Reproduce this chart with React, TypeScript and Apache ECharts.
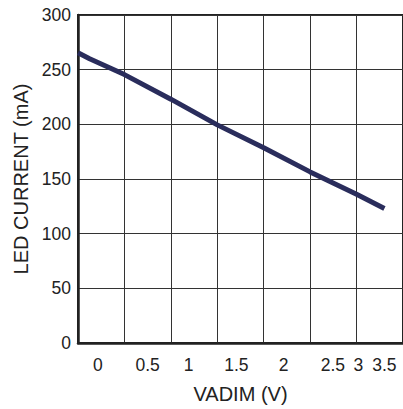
import React, { useEffect, useRef } from "react";
import * as echarts from "echarts";

// line samples: x in grid-column units (0..7), y in mA
const xPos = [0, 0.25, 1, 2, 3, 4, 5, 6, 6.6];
const current = [265.5, 260, 245.5, 223, 199.5, 178.5, 156.5, 136, 123];

// tick labels of the VADIM axis and where they sit (grid-column units)
const xTickLabels = ["0", "0.5", "1", "1.5", "2", "2.5", "3", "3.5"];
const xTickAt = [0.43, 1.5, 2.38, 3.41, 4.43, 5.49, 6.04, 6.6];

const yTicks = [0, 50, 100, 150, 200, 250, 300];

export default function App() {
  const ref = useRef<HTMLDivElement>(null);
  useEffect(() => {
    const chart = echarts.init(ref.current!, null, { renderer: "svg" });
    const font = "'Liberation Sans', Arial, sans-serif";
    chart.setOption({
      animation: false,
      grid: {
        left: 78,
        top: 15,
        width: 329,
        height: 328,
        show: true,
        borderColor: "#222",
        borderWidth: 2,
        backgroundColor: "transparent",
      },
      xAxis: {
        type: "value",
        min: 0,
        max: 7,
        interval: 1,
        name: "VADIM (V)",
        nameLocation: "middle",
        nameGap: 41,
        nameTextStyle: { fontSize: 20, color: "#222", fontFamily: font },
        axisLine: { show: true, lineStyle: { color: "#222", width: 2.5 } },
        axisTick: { show: false },
        splitLine: { show: true, lineStyle: { color: "#333", width: 1 } },
        axisLabel: {
          customValues: xTickAt,
          formatter: (v: number) => {
            const i = xTickAt.findIndex((p) => Math.abs(p - v) < 1e-6);
            return i >= 0 ? xTickLabels[i] : "";
          },
          fontSize: 17.5,
          color: "#222",
          fontFamily: font,
          margin: 13,
        },
      },
      yAxis: {
        type: "value",
        min: 0,
        max: 300,
        interval: 50,
        name: "LED CURRENT (mA)",
        nameLocation: "middle",
        nameGap: 47,
        nameTextStyle: { fontSize: 20, color: "#222", fontFamily: font },
        axisLine: { show: true, lineStyle: { color: "#222", width: 2.5 } },
        axisTick: { show: false },
        splitLine: { show: true, lineStyle: { color: "#333", width: 1 } },
        axisLabel: {
          fontSize: 17.5,
          color: "#222",
          fontFamily: font,
          margin: 7,
          formatter: (v: number) => (yTicks.includes(v) ? String(v) : ""),
        },
      },
      series: [
        {
          type: "line",
          data: xPos.map((x, i) => [x, current[i]]),
          showSymbol: false,
          lineStyle: { color: "#2a2d5c", width: 5, cap: "butt" },
          clip: true,
        },
      ],
    });
    return () => chart.dispose();
  }, []);
  return <div ref={ref} style={{ width: 403, height: 409, position: "absolute", left: 0, top: 0 }} />;
}
